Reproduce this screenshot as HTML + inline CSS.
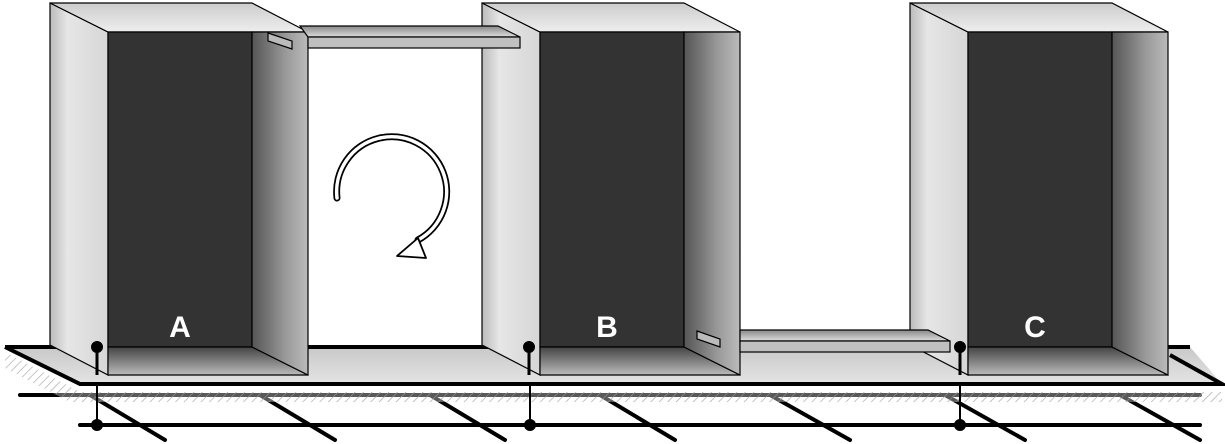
<!DOCTYPE html>
<html><head><meta charset="utf-8"><style>
html,body{margin:0;padding:0;background:#fff;width:1225px;height:444px;overflow:hidden}
svg{display:block}
text{font-family:"Liberation Sans",sans-serif;font-weight:bold;font-size:30px;fill:#fff}
</style></head><body>
<svg width="1225" height="444" viewBox="0 0 1225 444">
<defs>
<linearGradient id="lw" x1="0" x2="1"><stop offset="0" stop-color="#bbb"/><stop offset="0.3" stop-color="#e6e6e6"/><stop offset="1" stop-color="#d6d6d6"/></linearGradient>
<linearGradient id="rw" x1="0" x2="1"><stop offset="0" stop-color="#555"/><stop offset="0.6" stop-color="#999"/><stop offset="1" stop-color="#bbb"/></linearGradient>
<linearGradient id="tp" x1="0" y1="0" x2="0" y2="1"><stop offset="0" stop-color="#ccc"/><stop offset="1" stop-color="#eee"/></linearGradient>
<linearGradient id="fl" x1="0" y1="0" x2="0" y2="1"><stop offset="0" stop-color="#444"/><stop offset="1" stop-color="#bbb"/></linearGradient>
<linearGradient id="pf" x1="0" y1="0" x2="0" y2="1"><stop offset="0" stop-color="#c8c8c8"/><stop offset="1" stop-color="#e4e4e4"/></linearGradient>
<linearGradient id="sh" x1="0" y1="0" x2="0" y2="1"><stop offset="0" stop-color="#888"/><stop offset="1" stop-color="#ddd"/></linearGradient>
<pattern id="hatch" width="6" height="6" patternUnits="userSpaceOnUse" patternTransform="rotate(45)"><line x1="0" y1="0" x2="0" y2="6" stroke="#666" stroke-width="1.3"/></pattern>
</defs>

<g stroke="#000" stroke-linecap="round">
<line x1="20" y1="395" x2="1200" y2="395" stroke-width="4"/>
<line x1="80" y1="425" x2="1200" y2="425" stroke-width="4"/>
<g stroke-width="4">
<line x1="90" y1="395" x2="165" y2="440"/><line x1="260" y1="395" x2="335" y2="440"/>
<line x1="430" y1="395" x2="505" y2="440"/><line x1="600" y1="395" x2="675" y2="440"/>
<line x1="770" y1="395" x2="850" y2="440"/><line x1="945" y1="395" x2="1025" y2="440"/>
<line x1="1120" y1="395" x2="1200" y2="440"/>
</g>
</g>
<polygon points="5,352 80,392 1222,392 1222,402 70,402 5,368" fill="url(#hatch)" opacity="0.9"/>
<polygon points="5,352 80,392 1222,392 1222,402 70,402 5,368" fill="#fff" opacity="0.35"/>
<polygon points="5,347 1190,347 1222,384 80,384" fill="url(#pf)"/>
<polyline points="5,347 1190,347" stroke="#000" stroke-width="4" fill="none"/>
<polyline points="5,347 80,384 1222,384 1170,355" stroke="#000" stroke-width="4" fill="none"/>

<g stroke="#000">
<line x1="97" y1="384" x2="97" y2="425" stroke-width="2"/>
<line x1="530" y1="384" x2="530" y2="425" stroke-width="2"/>
<line x1="960" y1="384" x2="960" y2="425" stroke-width="2"/>
</g>
<g fill="#000"><circle cx="97" cy="425" r="6"/><circle cx="530" cy="425" r="6"/><circle cx="960" cy="425" r="6"/></g>

<g stroke="#000" stroke-width="1.2">
<polygon points="50,3 108,32 108,375 50,345" fill="url(#lw)"/>
<polygon points="50,3 252,3 308,32 108,32" fill="url(#tp)"/>
<rect x="108" y="32" width="144" height="315" fill="#333"/>
<polygon points="108,347 252,347 308,375 108,375" fill="url(#fl)"/>
<polygon points="252,32 308,32 308,375 252,347" fill="url(#rw)"/>
<polygon points="268,33 292,41 292,49 268,41" fill="#bbb"/>
</g>
<g stroke="#000" stroke-width="1.2">
<polygon points="482,3 540,32 540,375 482,345" fill="url(#lw)"/>
<polygon points="482,3 684,3 740,32 540,32" fill="url(#tp)"/>
<rect x="540" y="32" width="144" height="315" fill="#333"/>
<polygon points="540,347 684,347 740,375 540,375" fill="url(#fl)"/>
<polygon points="684,32 740,32 740,375 684,347" fill="url(#rw)"/>
<polygon points="697,331 720,339 720,347 697,339" fill="#bbb"/>
</g>
<g stroke="#000" stroke-width="1.2">
<polygon points="300,26 498,26 520,37 308,37" fill="url(#sh)"/>
<rect x="308" y="37" width="212" height="11" fill="#c0c0c0"/>
</g>
<g stroke="#000" stroke-width="1.2">
<polygon points="910,3 968,32 968,375 910,345" fill="url(#lw)"/>
<polygon points="910,3 1112,3 1168,32 968,32" fill="url(#tp)"/>
<rect x="968" y="32" width="144" height="315" fill="#333"/>
<polygon points="968,347 1112,347 1168,375 968,375" fill="url(#fl)"/>
<polygon points="1112,32 1168,32 1168,375 1112,347" fill="url(#rw)"/>
</g>
<g stroke="#000" stroke-width="1.2">
<polygon points="740,330 928,330 950,341 740,341" fill="url(#sh)"/>
<rect x="740" y="341" width="210" height="11" fill="#c0c0c0"/>
</g>

<g fill="#000" stroke="#000">
<line x1="97" y1="347" x2="97" y2="375" stroke-width="3"/><circle cx="97" cy="347" r="5.5"/>
<line x1="529" y1="347" x2="529" y2="375" stroke-width="3"/><circle cx="529" cy="347" r="5.5"/>
<line x1="960" y1="347" x2="960" y2="375" stroke-width="3"/><circle cx="960" cy="347" r="5.5"/>
</g>

<text x="180" y="337" text-anchor="middle">A</text>
<text x="607" y="337" text-anchor="middle">B</text>
<text x="1035" y="337" text-anchor="middle">C</text>

<g>
<path d="M337,198 A55,55 0 1 1 418,240" fill="none" stroke="#000" stroke-width="7" stroke-linecap="round"/>
<path d="M337,198 A55,55 0 1 1 418,240" fill="none" stroke="#fff" stroke-width="3.5" stroke-linecap="round"/>
<polygon points="397,256 418,238 426,258" fill="#fff" stroke="#000" stroke-width="1.8" stroke-linejoin="round"/>
</g>
</svg>
</body></html>
